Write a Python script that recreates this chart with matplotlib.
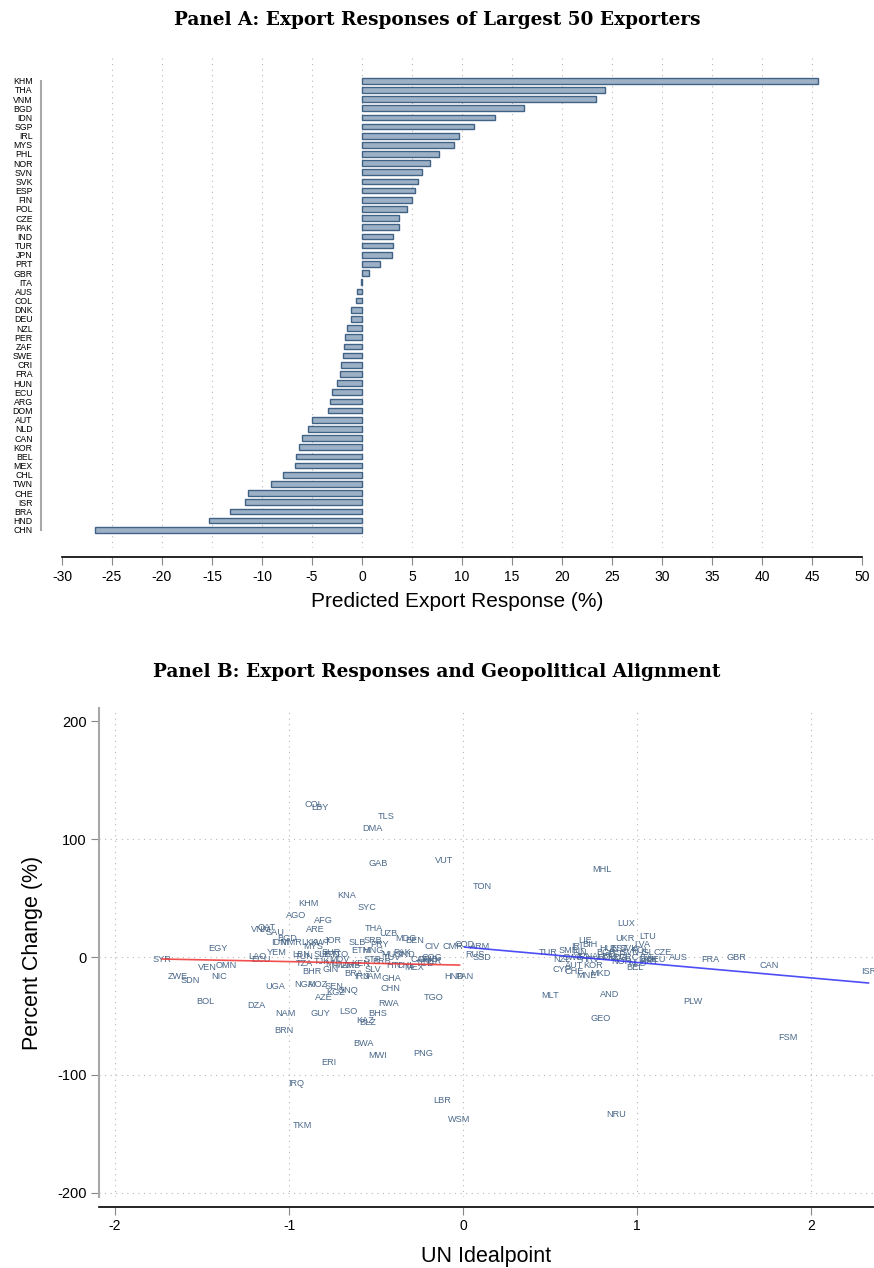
import numpy as np
import matplotlib
matplotlib.use('Agg')
import matplotlib.pyplot as plt

plt.rcParams['font.family'] = ['Liberation Sans', 'DejaVu Sans']

# Panel A: largest 50 exporters, predicted export response (%)
exporters = ['KHM', 'THA', 'VNM', 'BGD', 'IDN', 'SGP', 'IRL', 'MYS', 'PHL', 'NOR',
             'SVN', 'SVK', 'ESP', 'FIN', 'POL', 'CZE', 'PAK', 'IND', 'TUR', 'JPN',
             'PRT', 'GBR', 'ITA', 'AUS', 'COL', 'DNK', 'DEU', 'NZL', 'PER', 'ZAF',
             'SWE', 'CRI', 'FRA', 'HUN', 'ECU', 'ARG', 'DOM', 'AUT', 'NLD', 'CAN',
             'KOR', 'BEL', 'MEX', 'CHL', 'TWN', 'CHE', 'ISR', 'BRA', 'HND', 'CHN']
export_resp = [45.6, 24.3, 23.4, 16.2, 13.3, 11.2, 9.7, 9.2, 7.7, 6.8,
               6.0, 5.6, 5.3, 5.0, 4.5, 3.7, 3.7, 3.1, 3.1, 3.0,
               1.8, 0.7, -0.1, -0.5, -0.6, -1.1, -1.1, -1.5, -1.7, -1.8,
               -1.9, -2.1, -2.2, -2.5, -3.0, -3.2, -3.4, -5.0, -5.4, -6.0,
               -6.3, -6.6, -6.7, -7.9, -9.1, -11.4, -11.7, -13.2, -15.3, -26.7]
a_ticks = list(range(-30, 55, 5))

# Panel B: UN ideal point vs percent change
b_iso = ['COL', 'LBY', 'TLS', 'DMA', 'GAB', 'VUT', 'TON', 'KNA', 'MHL', 'SYC',
         'KHM', 'AGO', 'AFG', 'ARE', 'QAT', 'VNM', 'SAU', 'BGD', 'IDN', 'MMR',
         'EGY', 'YEM', 'LAO', 'ECU', 'SYR', 'VEN', 'OMN', 'NIC', 'ZWE', 'SDN',
         'BOL', 'DZA', 'UGA', 'NAM', 'BRN', 'ERI', 'IRQ', 'BWA', 'MWI', 'GUY',
         'LSO', 'BHS', 'KAZ', 'BLZ', 'AZE', 'NGA', 'MOZ', 'SEN', 'KGZ', 'GNQ',
         'BRA', 'IRN', 'JAM', 'GHA', 'CHN', 'RWA', 'TGO', 'HND', 'PAN', 'PNG',
         'LBR', 'WSM', 'TKM', 'NRU', 'GEO', 'FSM', 'PLW', 'AND', 'MLT', 'ISR',
         'CAN', 'GBR', 'FRA', 'AUS', 'LUX', 'UKR', 'LTU', 'LVA', 'CZE', 'TUR',
         'SMR', 'IRL', 'LIE', 'BIH', 'FIN', 'NZL', 'SWE', 'HRV', 'AUT', 'KOR',
         'CYP', 'CHE', 'MNE', 'MKD', 'HUN', 'EST', 'SVK', 'POL', 'ISL', 'ROU',
         'MDA', 'GRC', 'ITA', 'DNK', 'DEU', 'PRT', 'NLD', 'BEL', 'SVN', 'ESP',
         'NOR', 'BGR', 'ALB', 'JPN', 'THA', 'UZB', 'MDG', 'BEN', 'CIV', 'CMR',
         'COD', 'ARM', 'RUS', 'SSD', 'JOR', 'SRB', 'LKA', 'KWT', 'SLB', 'PRY',
         'MYS', 'SUR', 'ETH', 'MNG', 'MUS', 'PAK', 'IND', 'CAF', 'GMB', 'NER',
         'TCD', 'HTI', 'CHL', 'MEX', 'SLV', 'STP', 'BRB', 'TUV', 'LBN', 'TUN',
         'TZA', 'BHR', 'GIN', 'TJK', 'MLI', 'MAR', 'ZMB', 'KEN', 'SLE', 'BTN',
         'TTO', 'MDV', 'COG']
b_ideal = [-0.86, -0.82, -0.44, -0.52, -0.49, -0.11, 0.11, -0.67, 0.80, -0.55,
           -0.89, -0.96, -0.80, -0.85, -1.13, -1.16, -1.08, -1.01, -1.06, -0.99,
           -1.41, -1.07, -1.18, -1.16, -1.73, -1.47, -1.36, -1.40, -1.64, -1.57,
           -1.48, -1.19, -1.08, -1.02, -1.03, -0.77, -0.96, -0.57, -0.49, -0.82,
           -0.66, -0.49, -0.56, -0.55, -0.80, -0.91, -0.84, -0.74, -0.73, -0.66,
           -0.63, -0.58, -0.52, -0.41, -0.42, -0.43, -0.17, -0.05, 0.01, -0.23,
           -0.12, -0.02, -0.92, 0.88, 0.79, 1.87, 1.32, 0.84, 0.50, 2.33,
           1.76, 1.57, 1.42, 1.24, 0.94, 0.93, 1.06, 1.03, 1.15, 0.49,
           0.61, 0.66, 0.70, 0.73, 0.67, 0.57, 0.63, 0.73, 0.64, 0.75,
           0.57, 0.64, 0.71, 0.79, 0.84, 0.90, 0.95, 1.02, 1.06, 0.83,
           0.89, 0.95, 1.05, 1.06, 1.11, 1.07, 1.00, 0.99, 0.96, 0.88,
           0.91, 0.82, 0.79, 0.70, -0.51, -0.43, -0.33, -0.28, -0.18, -0.06,
           0.01, 0.10, 0.07, 0.11, -0.75, -0.52, -0.88, -0.82, -0.61, -0.48,
           -0.86, -0.76, -0.59, -0.52, -0.41, -0.35, -0.32, -0.25, -0.20, -0.18,
           -0.22, -0.40, -0.33, -0.28, -0.52, -0.52, -0.47, -0.41, -0.93, -0.91,
           -0.91, -0.87, -0.76, -0.81, -0.75, -0.68, -0.64, -0.59, -0.81, -0.76,
           -0.71, -0.71, -0.18]
b_change = [129, 127, 119, 109, 79, 82, 60, 52, 74, 42,
            45, 35, 31, 23, 25, 23, 21, 16, 12.7, 12.7,
            6.8, 4.2, 0.8, -2.5, -1.7, -9.3, -6.8, -16.1, -16.1, -19.5,
            -37.3, -41.5, -24.6, -47.5, -62.7, -89, -107.6, -72.9, -83.9, -48.3,
            -45.8, -47.5, -53.4, -55.9, -33.9, -22.9, -23.7, -24.6, -29.7, -28.8,
            -13.6, -16.1, -16.9, -17.8, -27.1, -39, -34.7, -16.9, -16.9, -81.4,
            -121.2, -137.3, -143.2, -133.9, -51.7, -68.6, -37.3, -32.2, -33, -12.7,
            -6.8, 0, -2.5, -0.8, 28, 16, 17, 10.2, 3.4, 3.4,
            5.1, 9.3, 14.4, 11, 4.2, -2.5, -0.8, -2.5, -6.8, -6.8,
            -11, -11.9, -15.3, -13.6, 6.8, 7.6, 6.8, 5.9, 4.2, -0.8,
            -0.8, 0, -0.8, -2.5, -2.5, -4.2, -5.1, -8.5, 3.4, 1.7,
            -4.2, 3.4, 0.8, 0.8, 24, 19.5, 16, 13.6, 8.5, 8.5,
            10.2, 8.5, 2.5, -0.8, 13.6, 13.6, 11.9, 11.9, 11.9, 11,
            8.5, 4.2, 5.9, 5.9, 1.7, 4.2, 2.5, -1.7, -2.5, -4.2,
            -5.1, -7.6, -7.6, -8.5, -10.2, -2.5, -4.2, -0.8, 1.7, 0.8,
            -5.1, -11.9, -10.2, -4.2, -5.1, -6.8, -6.8, -5.9, 1.7, 1.7,
            1.7, -2.5, -0.8]
b_xticks = [-2, -1, 0, 1, 2]
b_yticks = [-200, -100, 0, 100, 200]

# linear fits (intercept, slope), one each side of 0
fit_neg = (-6.9, -3.0)
fit_pos = (8.5, -13.1)

label_col = '#4a6889'
grid_col = '#b8b8b8'
title_font = ['DejaVu Serif']

fig = plt.figure(figsize=(8.74, 12.68), dpi=100)

# ---------------- Panel A ----------------
axA = fig.add_axes([0.0469, 0.5678, 0.9531, 0.3888])
ypos = np.arange(len(exporters))
axA.barh(ypos, export_resp, height=0.62, color='#9db1c6', edgecolor='#3f6285',
         linewidth=1.0, zorder=3)
axA.set_xlim(-32.1, 51.2)
axA.set_ylim(51.0, -2.8)
for v in a_ticks[1:-1]:
    axA.axvline(v, color=grid_col, lw=0.8, ls=(0, (1, 4)), zorder=1)
axA.set_xticks(a_ticks)
axA.set_xticklabels([str(t) for t in a_ticks], fontsize=10.5)
axA.set_yticks(ypos)
axA.set_yticklabels(exporters, fontsize=6.3)
axA.tick_params(axis='y', length=0, pad=6)
axA.tick_params(axis='x', length=6, width=0.8, color='#888888', pad=3)
for s in ['top', 'right']:
    axA.spines[s].set_visible(False)
axA.spines['bottom'].set_position(('outward', 6.5))
axA.spines['bottom'].set_bounds(-30, 50)
axA.spines['bottom'].set_linewidth(1.2)
axA.spines['left'].set_bounds(0, len(exporters) - 1)
axA.spines['left'].set_color('#a8a8a8')
axA.spines['left'].set_linewidth(1.5)
axA.set_xlabel('Predicted Export Response (%)', fontsize=15, labelpad=6)
fig.text(0.5, 0.984, 'Panel A: Export Responses of Largest 50 Exporters',
         ha='center', va='center', fontsize=13.3, fontweight='bold',
         family=title_font)

# ---------------- Panel B ----------------
axB = fig.add_axes([0.1133, 0.056, 0.8867, 0.3856])
axB.set_xlim(-2.092, 2.362)
axB.set_ylim(-203.4, 211)
for v in b_xticks:
    axB.axvline(v, color=grid_col, lw=0.8, ls=(0, (1, 4)), zorder=1)
for v in b_yticks[:-1]:
    axB.axhline(v, color=grid_col, lw=0.8, ls=(0, (1, 4)), zorder=1)

bx = np.array(b_ideal)
by = np.array(b_change)
for name, x, y in zip(b_iso, bx, by):
    axB.text(x, y, name, ha='center', va='center', fontsize=6.6, color=label_col,
             clip_on=False, zorder=3)

xn = np.array([bx[bx < 0].min(), bx[bx < 0].max()])
xp = np.array([bx[bx >= 0].min(), bx[bx >= 0].max()])
axB.plot(xn, fit_neg[0] + fit_neg[1] * xn, color='#f03030', lw=1.2, alpha=0.85, zorder=4)
axB.plot(xp, fit_pos[0] + fit_pos[1] * xp, color='#2f2ff5', lw=1.2, alpha=0.85, zorder=4)

axB.set_xticks(b_xticks)
axB.set_xticklabels([str(t) for t in b_xticks], fontsize=10.5)
axB.set_yticks(b_yticks)
axB.set_yticklabels([str(t) for t in b_yticks], fontsize=10.5)
axB.tick_params(axis='both', length=6, width=0.8, color='#888888', pad=3)
for s in ['top', 'right']:
    axB.spines[s].set_visible(False)
axB.spines['bottom'].set_position(('outward', 7))
axB.spines['bottom'].set_linewidth(1.2)
axB.spines['left'].set_color('#a8a8a8')
axB.spines['left'].set_linewidth(1.5)
axB.set_xlabel('UN Idealpoint', fontsize=15.5, labelpad=9)
axB.set_ylabel('Percent Change (%)', fontsize=15.5, labelpad=10)
fig.text(0.5, 0.47, 'Panel B: Export Responses and Geopolitical Alignment',
         ha='center', va='center', fontsize=13.3, fontweight='bold',
         family=title_font)

fig.savefig('out.png', dpi=100)
